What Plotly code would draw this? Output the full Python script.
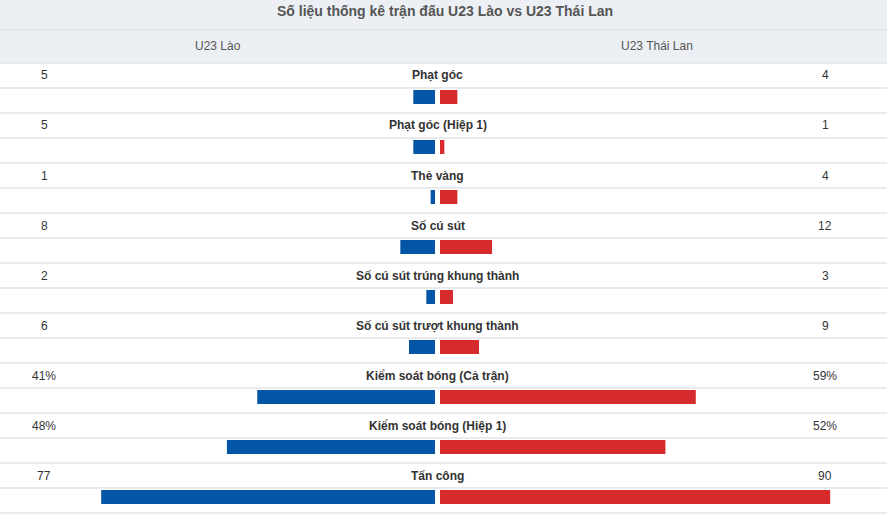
import plotly.graph_objects as go

# Match stats, U23 Laos vs U23 Thailand
title_text = "Số liệu thống kê trận đấu U23 Lào vs U23 Thái Lan"
team_home = "U23 Lào"
team_away = "U23 Thái Lan"

stat_names = [
    "Phạt góc",
    "Phạt góc (Hiệp 1)",
    "Thẻ vàng",
    "Số cú sút",
    "Số cú sút trúng khung thành",
    "Số cú sút trượt khung thành",
    "Kiểm soát bóng (Cả trận)",
    "Kiểm soát bóng (Hiệp 1)",
    "Tấn công",
]
home_values = [5, 5, 1, 8, 2, 6, 41, 48, 77]
away_values = [4, 1, 4, 12, 3, 9, 59, 52, 90]
value_suffix = ["", "", "", "", "", "", "%", "%", ""]

W, H = 887, 515
PX_PER_UNIT = 4.335
CENTER_PX = 437.5
TOP_PX = 63
ROW_PX = 50
GAP = 0.58

BLUE = "#0356a6"
RED = "#d62b2d"
LINE = "#e1e4e8"
HEAD_BG = "#ecf0f4"
FONT = "Liberation Sans, Arial, sans-serif"

x_range = [-CENTER_PX / PX_PER_UNIT, (W - CENTER_PX) / PX_PER_UNIT]
y_range = [(H - TOP_PX) / ROW_PX, -TOP_PX / ROW_PX]

n = len(stat_names)
bar_y = [i + 0.68 for i in range(n)]

fig = go.Figure()
fig.add_trace(go.Bar(
    y=bar_y, x=[-v for v in home_values], base=-GAP, orientation="h",
    width=0.28, marker=dict(color=BLUE, line=dict(width=0)),
    name=team_home, hoverinfo="skip",
))
fig.add_trace(go.Bar(
    y=bar_y, x=away_values, base=GAP, orientation="h",
    width=0.28, marker=dict(color=RED, line=dict(width=0)),
    name=team_away, hoverinfo="skip",
))

shapes = [
    dict(type="rect", xref="paper", yref="paper", x0=0, x1=1,
         y0=1 - TOP_PX / H, y1=1, fillcolor=HEAD_BG, line_width=0, layer="below"),
    dict(type="line", xref="paper", yref="paper", x0=0, x1=1,
         y0=1 - 30 / H, y1=1 - 30 / H, line=dict(color=LINE, width=1.5)),
]
for k in range(2 * n + 1):
    yy = TOP_PX + 25 * k
    shapes.append(dict(type="line", xref="paper", yref="paper", x0=0, x1=1,
                       y0=1 - yy / H, y1=1 - yy / H,
                       line=dict(color=LINE, width=1.5)))

annotations = [
    dict(text="<b>" + title_text + "</b>", x=445 / W, y=1 - 11 / H,
         font=dict(size=14, color="#555555")),
    dict(text=team_home, x=218 / W, y=1 - 46 / H, font=dict(size=12, color="#555555")),
    dict(text=team_away, x=657 / W, y=1 - 46 / H, font=dict(size=12, color="#555555")),
]
for i, name in enumerate(stat_names):
    ty = 1 - (TOP_PX + ROW_PX * i + 12.5) / H
    annotations.append(dict(text="<b>" + name + "</b>", x=CENTER_PX / W, y=ty,
                            font=dict(size=12, color="#333333")))
    annotations.append(dict(text=f"{home_values[i]}{value_suffix[i]}", x=44 / W, y=ty,
                            font=dict(size=12, color="#333333")))
    annotations.append(dict(text=f"{away_values[i]}{value_suffix[i]}", x=825 / W, y=ty,
                            font=dict(size=12, color="#333333")))
for a in annotations:
    a.update(xref="paper", yref="paper", showarrow=False, xanchor="center", yanchor="middle")

fig.update_layout(
    width=W, height=H,
    margin=dict(l=0, r=0, t=0, b=0),
    paper_bgcolor="white", plot_bgcolor="white",
    barmode="overlay", showlegend=False,
    font=dict(family=FONT),
    xaxis=dict(range=x_range, visible=False, fixedrange=True),
    yaxis=dict(range=y_range, visible=False, fixedrange=True),
    shapes=shapes, annotations=annotations,
)

# drop the page's default body margin so the figure sits at the window corner
fig.write_html(
    "out.html",
    config={"displayModeBar": False},
    post_script="document.body.style.margin='0';document.body.style.overflow='hidden';",
)
